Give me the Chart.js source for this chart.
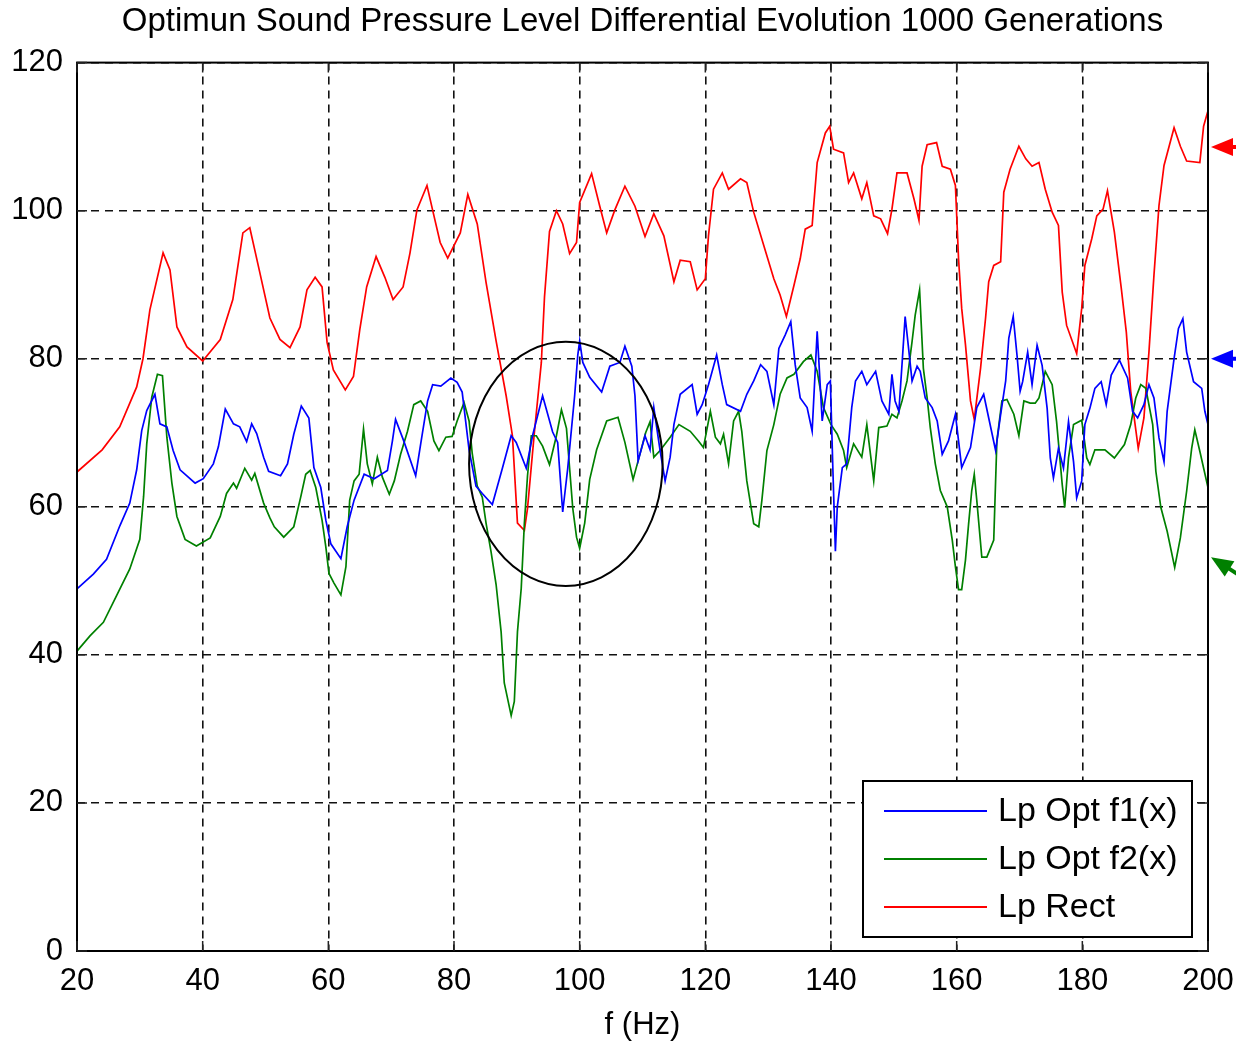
<!DOCTYPE html>
<html>
<head>
<meta charset="utf-8">
<script src="https://cdn.jsdelivr.net/npm/chart.js@4.4.1/dist/chart.umd.min.js"></script>
<style>
html,body{margin:0;padding:0;background:#fff;}
#wrap{width:1236px;height:1044px;}
</style>
</head>
<body>
<div id="wrap"><canvas id="c" width="1236" height="1044"></canvas></div>
<script>
// ---- data ----
const titleText = 'Optimun Sound Pressure Level Differential Evolution 1000 Generations';
const xTitle = 'f (Hz)';
const seriesNames = ['Lp Opt f1(x)', 'Lp Opt f2(x)', 'Lp Rect'];
const xTicks = [20, 40, 60, 80, 100, 120, 140, 160, 180, 200];
const yTicks = [0, 20, 40, 60, 80, 100, 120];

const f1Freq = [20,22.6,24.7,26.8,28.4,29.5,30.3,31.1,32.4,33.2,34.3,35.3,36.4,38.8,40.1,41.7,42.5,43.6,44.9,45.9,47,47.8,48.6,49.7,50.5,52.4,53.5,54.5,55.7,56.9,57.7,58.8,59.6,60.4,62,63,64.1,65.7,67.3,69.4,70.2,70.7,72,73.9,74.7,75.8,76.6,77.9,79.5,80.5,81.3,82.4,83.5,84.5,86.1,87.7,89.1,89.9,91.5,92.5,94.1,95.7,96.5,97.3,98.1,99.2,99.7,100,100.5,101.6,103.5,104.8,106.4,107.2,108.3,108.8,109.3,110.4,111.2,111.8,112.8,113.6,114.4,115,116,117.9,118.7,119.5,120.5,121.8,122.7,123.4,125.6,126.6,127.7,128.8,129.8,130.9,131.7,132.7,133.6,134.3,135.1,136.2,137,137.8,138.6,139.4,139.9,140.3,140.7,141,141.8,142.5,143.3,143.9,144.9,145.7,147.1,148.1,149.2,149.7,150.2,150.8,151.3,151.8,152.4,152.9,153.7,154.2,155,156.1,156.9,157.7,158.7,159.8,160.3,160.8,162.2,163.2,164.3,165.1,166.2,167,167.8,168.3,169,169.6,170.1,170.5,171.3,172,172.8,173.6,174.4,174.9,175.4,176.2,177,177.8,178.6,179.1,179.9,180.4,181.2,182,183,183.8,184.6,185.9,187.2,188,188.8,189.8,190.6,191.4,192.2,193,193.5,194.6,195.3,196,196.6,197.7,199,199.5,200];
const f1Lp = [48.9,50.9,52.9,57.4,60.5,65,70.3,73,75.2,71.2,70.8,67.6,65,63.2,63.8,65.8,68.1,73.2,71.2,70.8,68.8,71.2,69.9,66.7,64.8,64.2,65.8,69.8,73.6,72,65.3,62.6,58.2,55,53,57.3,60.9,64.4,63.8,64.9,68.9,71.8,68.9,64.2,68.5,74.3,76.5,76.3,77.4,76.8,75.5,67.7,62.8,61.8,60.3,65.2,69.6,68.7,65.2,69.6,75,70.1,68.7,59.3,65.2,75,80.5,82.4,79.5,77.5,75.5,79,79.5,81.7,79,75,66.2,69.6,67.7,73.4,67.6,63.5,66.7,71.1,75.2,76.5,72.5,73.8,76.5,80.5,76.5,73.8,72.9,75.2,77,79.2,78.3,73.8,81.4,83.2,85,79.2,74.7,73.4,70.2,83.7,71.6,76.5,77,65,54,60,65.3,65.8,73.4,77,78.3,76.5,78.3,74.3,72.5,77.9,74.3,72.9,79.2,85.7,81,77,79,78.3,74.7,73.4,71.6,67.1,68.9,72.5,68.9,65.3,68,73.4,75.2,72,67.6,72.5,77,82.8,85.7,80.5,75.6,76.9,80.9,76.5,81.8,79.1,73.3,66.6,63.9,67.9,65.2,71.5,66.1,61.2,63.5,71.1,73.3,76,76.9,73.8,77.8,79.8,77.4,72.9,72,73.8,76.5,74.7,69.3,66.1,72.9,80,84.1,85.4,80.9,76.9,76,72.9,71.1];

const f2Freq = [20,22.1,24.2,26.3,28.4,30,30.6,31.1,31.9,32.8,33.6,34.3,35.1,35.9,37.2,39,41.2,42.8,43.8,44.9,45.4,46.7,47.8,48.3,49.7,50.7,51.4,52.9,54.5,55.6,56.4,57.1,58,59,59.6,60.1,60.9,62,62.8,63.4,64.1,64.9,65.6,66.2,67,67.8,68.6,69.7,70.5,71.5,72.6,73.6,74.7,75.8,76.8,77.6,78.7,79.7,80.5,81.6,82.4,82.9,83.7,84.5,85.1,85.9,86.7,87.5,88,89.1,89.6,90.1,90.7,91.2,91.7,92.3,93.1,94.1,95.2,96.3,97.1,97.9,98.4,98.9,99.5,100,100.8,101.6,102.7,104.3,106.1,107.2,108.5,109.3,110.5,111.2,111.8,112.8,114.4,115.8,117.6,118.9,119.7,120.8,121.6,122.4,122.9,123.7,124.5,125.3,125.8,126.6,127.7,128.5,129,129.8,130.9,131.9,133,134.1,135.6,136.8,137.8,138.8,140,141,142,142.5,143.6,144.9,145.7,146.8,147.6,148.9,149.7,150.5,151.3,152.1,152.9,153.4,154.1,154.7,155.3,155.8,156.6,157.4,158.5,159.3,159.8,160.3,160.8,161.4,161.9,162.4,162.8,163.2,164,164.8,165.9,166.4,167.2,168,169.1,169.9,170.7,171.7,172.5,173.1,174.1,175.2,175.9,176.8,177.2,177.8,178.6,179.9,180.7,181.2,182,183.6,185.1,186.7,187.7,188.5,189.3,190.1,191.2,191.7,192.5,193.5,194.7,195.6,196.6,197.4,197.9,198.7,200];
const f2Lp = [40.5,42.6,44.4,48,51.6,55.6,61.4,68.5,74.8,77.9,77.7,69.4,63.2,58.7,55.6,54.7,55.8,58.7,61.8,63.2,62.5,65.2,63.6,64.5,60.5,58.5,57.3,55.9,57.3,61.3,64.4,64.9,62.6,58.2,54.6,51,49.7,48.1,51.9,60.9,63.5,64.4,70.5,65.8,63.1,66.7,64,61.7,63.5,67.1,70.2,73.8,74.3,72.9,68.9,67.6,69.4,69.5,71.6,74.1,71.6,67.2,62.8,61.3,57.8,53.9,49.5,43.1,36.2,31.8,33.7,43.1,49,57.8,64.2,69.6,69.6,68.2,65.7,69.6,73.1,70.6,65.2,59.8,55.9,54.4,57.8,63.7,67.7,71.6,72.1,68.7,63.7,66.2,70,71.5,66.7,67.6,69.4,71.1,70.2,68.9,68,72.9,69.4,68.5,69.8,65.8,71.6,72.9,70.2,63.5,57.7,57.3,60.9,67.6,71.1,75.2,77.4,77.9,79.6,80.5,78.3,73.4,71.1,69.8,67.6,65.3,68.5,66.7,71.1,63.5,70.7,70.9,72.5,72,74.3,77,82.3,85.9,89.3,78.7,74.7,70.7,65.8,62.2,60,55.5,51.9,48.8,48.8,52.8,57.7,62.2,64.4,60.9,53.2,53.2,55.5,68.9,74.3,74.5,72.5,69.6,74.3,74,74,74.7,78.3,76.5,71.5,63,59.9,66.6,71.1,71.7,66.6,65.7,67.7,67.7,66.6,68.4,71.1,74.7,76.5,76,71.1,64.8,59.9,56.7,51.8,55.8,62.1,67.9,70.4,67.5,62.6];

const rectFreq = [20,24,26.8,29.5,30.5,31.6,33.7,34.8,35.9,37.5,40,42.8,44.8,46.4,47.5,49,50.7,52.3,53.9,55.5,56.6,57.9,59,59.8,60.8,62.7,64,65,66.1,67.6,69,70.3,71.9,73,74.1,75.7,76.7,77.8,79,81,82.2,83.7,85.1,86.7,88.3,89.3,90.1,91.2,91.7,92.8,93.9,94.4,95.2,96.3,97.3,98.4,99.5,100,101.9,103.2,104.3,105.6,107.2,108.8,110.4,111.8,113.4,115,116,117.6,118.7,120,120.5,121.3,122.7,123.7,125.6,126.6,127.7,129.3,130.9,131.9,132.9,134.1,135.1,135.9,137,137.2,137.8,139.1,139.8,140.4,142,142.8,143.6,144.9,145.7,146.8,147.9,149,149.7,150.5,152.1,153.2,154,154.5,155.3,156.8,157.7,159,159.8,160.3,160.8,161.4,162.2,162.8,163.8,164.6,165.1,165.9,167,167.5,168.5,169.9,171,172,173.1,174.1,175.2,176.2,176.8,177.5,179.1,179.9,180.4,181.5,182.3,183.3,184,185.1,186.2,187,187.7,188.9,189.8,190.6,191.4,192.2,193,194.6,195.6,196.6,198.7,199.3,200];
const rectLp = [64.7,67.7,70.8,76.2,80,86.6,94.3,92,84.3,81.6,79.7,82.6,88,97,97.7,92,85.5,82.6,81.5,84.3,89.3,91,89.7,82.2,78.5,75.8,77.6,83.9,89.7,93.8,91,88,89.7,94.3,100.1,103.4,99.7,95.7,93.6,97,102.2,98.2,90.3,82.4,75,69.6,57.8,56.8,59.8,70.1,79.5,88.3,97.2,100,98.2,94.2,95.7,101.1,105,100.6,97,100.1,103.3,100.6,96.5,99.6,96.6,90.4,93.3,93.1,89.3,90.8,96.6,102.9,105.1,102.9,104.3,103.8,99.8,95.3,90.8,88.6,85.7,89.9,93.5,97.5,98,100.2,106.5,110.5,111.4,108.3,107.8,103.8,105.1,101.6,103.8,99.3,98.9,96.9,100.2,105.1,105.1,101.6,98.7,106,108.9,109.2,106,105.6,103.4,93.5,86.8,81.9,74.3,71.8,78.7,85.5,90.4,92.6,93.1,102.5,105.6,108.7,107,106,106.5,102.9,99.8,98,89,84.5,80.7,86.8,92.6,96.2,99.3,100.2,102.7,97.1,89.5,83.6,75.6,67.9,72,80.9,91.3,100.7,106.1,111.2,108.7,106.7,106.5,111.4,113.5];

// arrow markers at the right edge (levels, dB) and the highlight ellipse (centre f, centre Lp, half-width Hz, half-height dB)
const arrowLevels = [108.6, 80, 53.2];
const ellipseSpec = [97.8, 65.8, 15.4, 16.5];

const colors = ['#0000ff', '#008000', '#ff0000'];

function pts(xs, ys){ return xs.map((x,i)=>({x:x, y:ys[i]})); }

const FONT = "'Liberation Sans', Arial, sans-serif";

const bgPlugin = {
  id:'bg',
  beforeDraw(chart){
    const c = chart.ctx; c.save(); c.fillStyle='#fff'; c.fillRect(0,0,chart.width,chart.height); c.restore();
  }
};

const framePlugin = {
  id:'frame',
  afterDatasetsDraw(chart){
    const c = chart.ctx, a = chart.chartArea, xs = chart.scales.x, ys = chart.scales.y;
    c.save();
    // ellipse
    const ex = xs.getPixelForValue(ellipseSpec[0]), ey = ys.getPixelForValue(ellipseSpec[1]);
    const rx = Math.abs(xs.getPixelForValue(ellipseSpec[0]+ellipseSpec[2]) - ex);
    const ry = Math.abs(ys.getPixelForValue(ellipseSpec[1]+ellipseSpec[3]) - ey);
    c.beginPath(); c.ellipse(ex, ey, rx, ry, 0, 0, Math.PI*2);
    c.strokeStyle='#000'; c.lineWidth=2; c.stroke();
    // frame
    c.strokeStyle='#000'; c.lineWidth=2;
    c.strokeRect(a.left, a.top, a.right-a.left, a.bottom-a.top);
    // inner ticks
    c.lineWidth=1.5; c.strokeStyle='#222';
    const tl = 10;
    xTicks.forEach(v=>{ const px = xs.getPixelForValue(v);
      c.beginPath(); c.moveTo(px,a.bottom); c.lineTo(px,a.bottom-tl); c.moveTo(px,a.top); c.lineTo(px,a.top+tl); c.stroke(); });
    yTicks.forEach(v=>{ const py = ys.getPixelForValue(v);
      c.beginPath(); c.moveTo(a.left,py); c.lineTo(a.left+tl,py); c.moveTo(a.right,py); c.lineTo(a.right-tl,py); c.stroke(); });
    // legend box
    const bw = 329, bh = 156;
    const bx = a.right - 16 - bw, by = a.bottom - 14 - bh;
    c.fillStyle='#fff'; c.fillRect(bx,by,bw,bh);
    c.strokeStyle='#000'; c.lineWidth=2; c.strokeRect(bx,by,bw,bh);
    c.font = '34px ' + FONT; c.textBaseline='middle'; c.textAlign='left';
    chart.data.datasets.forEach((d,i)=>{
      const yy = by + 30 + i*48;
      c.strokeStyle = d.borderColor; c.lineWidth = 2;
      c.beginPath(); c.moveTo(bx+21, yy); c.lineTo(bx+124, yy); c.stroke();
      c.fillStyle='#000'; c.fillText(d.label, bx+135, yy+1);
    });
    // arrows outside right edge
    const tipX = a.right + 3;
    arrowLevels.forEach((lv,i)=>{
      const py = ys.getPixelForValue(lv);
      c.fillStyle = colors[(i+2)%3]; c.strokeStyle = colors[(i+2)%3];
      c.save(); c.translate(tipX, py);
      if (i===2) c.rotate(Math.atan2(14, 22));
      c.beginPath(); c.moveTo(0,0); c.lineTo(22,-9); c.lineTo(22,9); c.closePath(); c.fill();
      c.fillRect(20,-2,40,4);
      c.restore();
    });
    c.restore();
  }
};

new Chart(document.getElementById('c'), {
  type:'line',
  data:{
    datasets:[
      {label:seriesNames[0], data:pts(f1Freq,f1Lp), borderColor:colors[0], borderWidth:1.7, pointRadius:0, tension:0, fill:false},
      {label:seriesNames[1], data:pts(f2Freq,f2Lp), borderColor:colors[1], borderWidth:1.7, pointRadius:0, tension:0, fill:false},
      {label:seriesNames[2], data:pts(rectFreq,rectLp), borderColor:colors[2], borderWidth:1.7, pointRadius:0, tension:0, fill:false}
    ]
  },
  options:{
    responsive:false, animation:false, devicePixelRatio:1,
    layout:{padding:{left:0, right:28, top:0, bottom:0}},
    plugins:{
      legend:{display:false},
      tooltip:{enabled:false},
      title:{display:true, fullSize:false, text:titleText, color:'#000', font:{family:FONT, size:33, weight:'normal'}, padding:{top:2, bottom:21}}
    },
    scales:{
      x:{type:'linear', min:20, max:200,
        afterBuildTicks(s){ s.ticks = xTicks.map(v=>({value:v})); },
        afterFit(s){ s.height = 93; s.paddingLeft = 0; s.paddingRight = 0; },
        ticks:{color:'#000', font:{family:FONT, size:31}, padding:12, maxRotation:0, autoSkip:false},
        grid:{color:'#111', lineWidth:1.6, drawTicks:false},
        border:{display:false, dash:[8,6]},
        title:{display:true, text:xTitle, color:'#000', font:{family:FONT, size:31}, padding:{top:0,bottom:0}}
      },
      y:{type:'linear', min:0, max:120,
        afterBuildTicks(s){ s.ticks = yTicks.map(v=>({value:v})); },
        afterFit(s){ s.width = 77; s.paddingTop = 0; s.paddingBottom = 0; },
        ticks:{color:'#000', font:{family:FONT, size:31}, padding:14},
        grid:{color:'#111', lineWidth:1.6, drawTicks:false},
        border:{display:false, dash:[8,6]}
      }
    }
  },
  plugins:[bgPlugin, framePlugin]
});
</script>
</body>
</html>
